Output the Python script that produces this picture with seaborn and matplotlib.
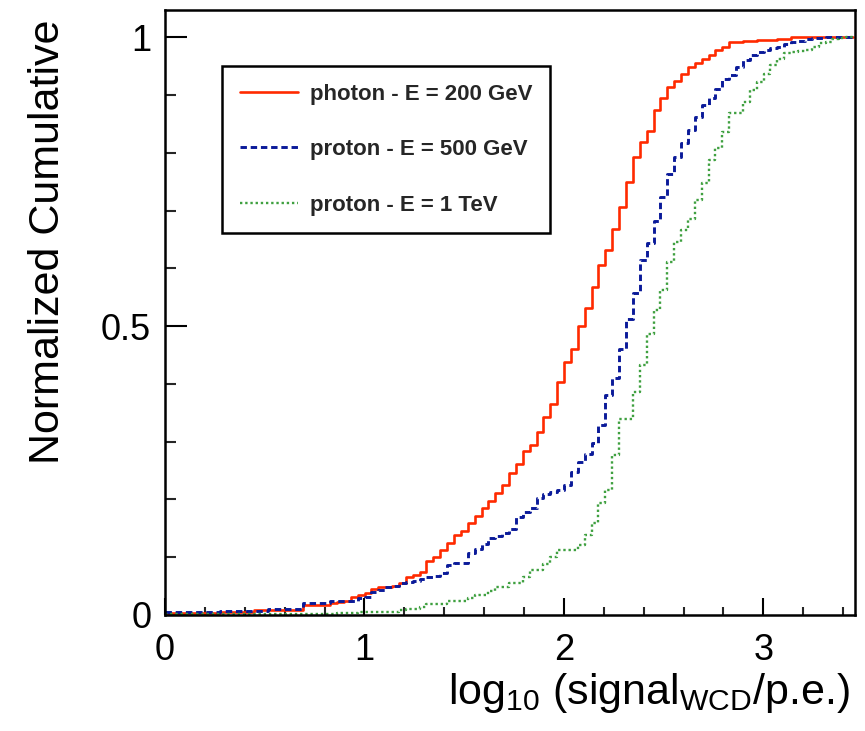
import numpy as np
import pandas as pd
import matplotlib
matplotlib.use("Agg")
import matplotlib.pyplot as plt
import seaborn as sns
from matplotlib.ticker import MultipleLocator, FuncFormatter

# ---- histogram definition (100 bins over 0 .. 3.45) ----
N_BINS = 100
X_MIN, X_MAX = 0.0, 3.45

# ---- cumulative bin contents ----
photon_200GeV = ([0.003] * 8 + [0.006] * 5 + [0.009] * 7 + [0.017] * 4 +
                 [0.020, 0.022, 0.025, 0.032, 0.035, 0.038, 0.045, 0.048, 0.049, 0.050,
                  0.055, 0.066, 0.069, 0.074, 0.093, 0.100, 0.112, 0.125, 0.139, 0.146,
                  0.160, 0.172, 0.185, 0.197, 0.211, 0.225, 0.245, 0.262, 0.283, 0.294,
                  0.317, 0.343, 0.366, 0.404, 0.438, 0.461, 0.500, 0.531, 0.568, 0.606,
                  0.631, 0.668, 0.706, 0.750, 0.792, 0.818, 0.837, 0.874, 0.894, 0.914,
                  0.925, 0.937, 0.949, 0.956, 0.962, 0.969, 0.977, 0.983, 0.991, 0.991,
                  0.993, 0.993, 0.995, 0.995, 0.995, 0.997, 0.997] + [1.0] * 9)

proton_500GeV = ([0.005] * 8 + [0.007] * 7 + [0.010] * 5 + [0.020] * 4 + [0.025] * 4 +
                 [0.030, 0.032, 0.040, 0.043, 0.048, 0.050, 0.056, 0.057, 0.058, 0.062,
                  0.065, 0.067, 0.072, 0.086, 0.090, 0.090, 0.107, 0.115, 0.123, 0.133,
                  0.137, 0.142, 0.148, 0.170, 0.178, 0.185, 0.202, 0.209, 0.213, 0.217,
                  0.225, 0.248, 0.265, 0.278, 0.297, 0.329, 0.381, 0.410, 0.461, 0.513,
                  0.558, 0.614, 0.643, 0.682, 0.724, 0.763, 0.793, 0.816, 0.839, 0.862,
                  0.882, 0.895, 0.911, 0.927, 0.935, 0.949, 0.960, 0.970, 0.974, 0.978,
                  0.981, 0.983, 0.988, 0.992, 0.993, 0.996, 0.998, 0.999] + [1.0] * 4)

proton_1TeV = ([0.001] * 25 + [0.004] * 3 + [0.006] * 6 +
               [0.008, 0.010, 0.010, 0.014, 0.019, 0.019, 0.019, 0.025, 0.025, 0.025,
                0.029, 0.035, 0.035, 0.042, 0.048, 0.048, 0.055, 0.055, 0.065, 0.077,
                0.077, 0.089, 0.101, 0.112, 0.112, 0.112, 0.121, 0.138, 0.159, 0.193,
                0.216, 0.277, 0.340, 0.340, 0.386, 0.433, 0.486, 0.528, 0.562, 0.611,
                0.646, 0.666, 0.686, 0.718, 0.747, 0.787, 0.809, 0.836, 0.868, 0.868,
                0.887, 0.908, 0.923, 0.937, 0.952, 0.963, 0.973, 0.975, 0.976, 0.978,
                0.983, 0.990, 0.992, 0.996, 0.998, 1.0])

labels = ["photon - E = 200 GeV", "proton - E = 500 GeV", "proton - E = 1 TeV"]
colors = ["#ff2a00", "#0a1a99", "#3fa040"]

# ---- styling ----
sns.set_theme(style="ticks")
plt.rcParams["font.family"] = ["Liberation Sans", "DejaVu Sans"]
plt.rcParams["mathtext.fontset"] = "custom"
plt.rcParams["mathtext.rm"] = "Liberation Sans"
plt.rcParams["mathtext.it"] = "Liberation Sans:italic"
plt.rcParams["mathtext.bf"] = "Liberation Sans:bold"

fig = plt.figure(figsize=(8.65, 7.31), dpi=100)
fig.patch.set_facecolor("white")
ax = fig.add_axes([0.1908, 0.1587, 0.7977, 0.8276])
ax.set_facecolor("white")

edges = np.linspace(X_MIN, X_MAX, N_BINS + 1)
series = [photon_200GeV, proton_500GeV, proton_1TeV]
styles = [dict(lw=1.9, linestyle="-"),
          dict(lw=2.1, linestyle=(0, (2.2, 1.3))),
          dict(lw=1.7, linestyle=(0, (1.0, 1.2)))]

for vals, lab, col, st in zip(series, labels, colors, styles):
    df = pd.DataFrame({"x": edges, "y": list(vals) + [vals[-1]]})
    sns.lineplot(data=df, x="x", y="y", ax=ax, color=col, label=lab,
                 drawstyle="steps-post", estimator=None, sort=False, **st)

ax.set_xlim(0, 3.46)
ax.set_ylim(0, 1.047)

for sp in ax.spines.values():
    sp.set_visible(True)
    sp.set_linewidth(1.8)
    sp.set_color("black")

ax.xaxis.set_major_locator(MultipleLocator(1))
ax.xaxis.set_minor_locator(MultipleLocator(0.2))
ax.yaxis.set_major_locator(MultipleLocator(0.5))
ax.yaxis.set_minor_locator(MultipleLocator(0.1))
ax.yaxis.set_major_formatter(FuncFormatter(lambda v, p: f"{v:g}"))
ax.xaxis.set_major_formatter(FuncFormatter(lambda v, p: f"{v:g}"))

ax.tick_params(axis="y", which="major", direction="in", length=16, width=1.5,
               labelsize=26, pad=10, left=True, right=False, colors="black")
ax.tick_params(axis="y", which="minor", direction="in", length=8, width=1.5,
               left=True, right=False)
ax.tick_params(axis="x", which="major", direction="in", length=12, width=1.5,
               labelsize=26, pad=13, bottom=True, top=False, colors="black")
ax.tick_params(axis="x", which="minor", direction="in", length=6, width=1.5,
               bottom=True, top=False)

ax.set_ylabel("Normalized Cumulative", fontsize=31, loc="top", color="black")
ax.yaxis.set_label_coords(-0.14, 0.985)
ax.set_xlabel(r"log$_{\mathrm{10}}$ (signal$_{\mathrm{WCD}}$/p.e.)", fontsize=31,
              loc="right", color="black")
ax.xaxis.set_label_coords(0.993, -0.093)

leg = ax.legend(loc="upper left", bbox_to_anchor=(0.0826, 0.9074), borderaxespad=0,
                frameon=True, fancybox=False, edgecolor="black", framealpha=1,
                prop={"weight": "bold", "size": 16}, handlelength=2.6,
                handletextpad=0.55, labelspacing=1.55, borderpad=0.8)
leg.get_frame().set_linewidth(1.8)
ax.grid(False)

fig.savefig("out.png", dpi=100, facecolor="white")
